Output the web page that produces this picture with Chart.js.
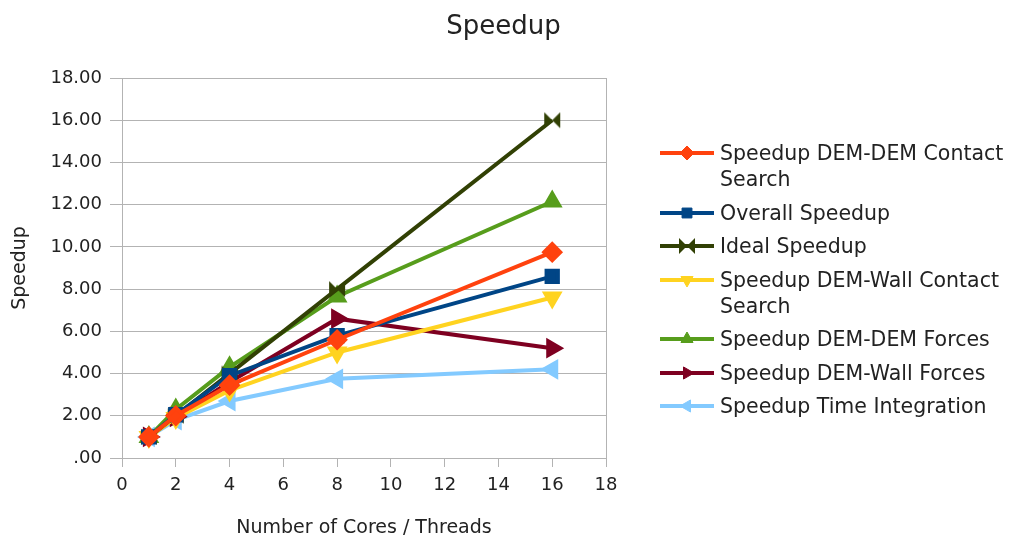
<!DOCTYPE html>
<html>
<head>
<meta charset="utf-8">
<script src="https://cdn.jsdelivr.net/npm/chart.js@4.4.1/dist/chart.umd.min.js"></script>
<style>
  html, body { margin: 0; padding: 0; background: #fff; }
  #wrap { position: relative; width: 1015px; height: 541px; font-family: "DejaVu Sans", sans-serif; color: #222; }
  #chart { position: absolute; left: 0; top: 0; }
  #title { position: absolute; left: 0; width: 1007px; top: 10px; text-align: center; font-size: 26px; line-height: 30px; }
  #legend { position: absolute; left: 660px; top: 140px; }
  .item { display: flex; align-items: flex-start; margin-bottom: 7.5px; }
  .item canvas { flex: none; margin-top: 1px; }
  .item span { font-size: 20.5px; line-height: 26px; width: 298px; margin-left: 6px; }
</style>
</head>
<body>
<div id="wrap">
  <canvas id="chart" width="1015" height="541"></canvas>
  <div id="title">Speedup</div>
  <div id="legend"></div>
</div>
<script>
const cores = [1, 2, 4, 8, 16];
const contactSearch = [1.0, 2.0, 3.45, 5.6, 9.75];
const overall = [1.0, 2.05, 3.9, 5.8, 8.6];
const ideal = [1, 2, 4, 8, 16];
const wallContactSearch = [1.0, 1.9, 3.2, 5.0, 7.6];
const demForces = [1.0, 2.3, 4.3, 7.65, 12.15];
const wallForces = [1.0, 1.95, 3.6, 6.6, 5.2];
const timeIntegration = [1.0, 1.8, 2.7, 3.75, 4.2];

const yTicks = [0, 2, 4, 6, 8, 10, 12, 14, 16, 18];
const xTicks = [0, 2, 4, 6, 8, 10, 12, 14, 16, 18];

// bowtie marker for the ideal line
function bowtie(color, r) {
  const c = document.createElement("canvas");
  c.width = c.height = r * 2 + 2;
  const g = c.getContext("2d");
  g.fillStyle = color;
  g.beginPath();
  g.moveTo(1, 1); g.lineTo(r + 1, r + 1); g.lineTo(1, 2 * r + 1); g.closePath();
  g.moveTo(2 * r + 1, 1); g.lineTo(r + 1, r + 1); g.lineTo(2 * r + 1, 2 * r + 1); g.closePath();
  g.fill();
  return c;
}

const series = [
  { label: "Speedup DEM-DEM Contact Search", values: contactSearch, color: "#ff420e", style: "rectRot", rot: 0 },
  { label: "Overall Speedup", values: overall, color: "#004586", style: "rect", rot: 0 },
  { label: "Ideal Speedup", values: ideal, color: "#314004", style: bowtie("#314004", 8), rot: 0 },
  { label: "Speedup DEM-Wall Contact Search", values: wallContactSearch, color: "#ffd320", style: "triangle", rot: 180 },
  { label: "Speedup DEM-DEM Forces", values: demForces, color: "#579d1c", style: "triangle", rot: 0 },
  { label: "Speedup DEM-Wall Forces", values: wallForces, color: "#7e0021", style: "triangle", rot: 90 },
  { label: "Speedup Time Integration", values: timeIntegration, color: "#83caff", style: "triangle", rot: 270 },
];

const tickFont = { family: "DejaVu Sans", size: 18 };
const axisFont = { family: "DejaVu Sans", size: 19 };

const chart = new Chart(document.getElementById("chart"), {
  type: "line",
  data: {
    datasets: series.map((s) => ({
      label: s.label,
      data: cores.map((c, i) => ({ x: c, y: s.values[i] })),
      borderColor: s.color,
      backgroundColor: s.color,
      borderWidth: 4,
      pointStyle: s.style,
      pointRotation: s.rot,
      pointRadius: 8,
      tension: 0,
    })),
  },
  options: {
    responsive: false,
    animation: false,
    layout: { padding: { left: 0, top: 78, right: 409, bottom: 0 } },
    plugins: { legend: { display: false }, tooltip: { enabled: false } },
    scales: {
      x: {
        type: "linear",
        min: 0,
        max: 18,
        afterBuildTicks: (s) => { s.ticks = xTicks.map((v) => ({ value: v })); },
        afterFit: (s) => { s.height = 83; },
        ticks: { font: tickFont, color: "#222", padding: 8, maxRotation: 0 },
        grid: {
          color: (ctx) => (ctx.tick && ctx.tick.value === 18 ? "#b3b3b3" : "rgba(0,0,0,0)"),
          tickColor: "#b3b3b3",
          tickLength: 9,
        },
        border: { color: "#b3b3b3" },
        title: { display: true, text: "Number of Cores / Threads", font: axisFont, color: "#222", padding: { top: 0, bottom: 2 } },
      },
      y: {
        min: 0,
        max: 18,
        afterBuildTicks: (s) => { s.ticks = yTicks.map((v) => ({ value: v })); },
        afterFit: (s) => { s.width = 122; },
        ticks: {
          font: tickFont,
          color: "#222",
          padding: 8,
          callback: (v) => v.toFixed(2).replace(/^0/, ""),
        },
        grid: { color: "#b3b3b3", tickColor: "#b3b3b3", tickLength: 12 },
        border: { color: "#b3b3b3" },
        title: { display: true, text: "Speedup", font: axisFont, color: "#222", padding: { top: 9, bottom: 0 } },
      },
    },
  },
});

// legend built from the datasets
const legend = document.getElementById("legend");
chart.data.datasets.forEach((ds) => {
  const item = document.createElement("div");
  item.className = "item";
  const c = document.createElement("canvas");
  c.width = 54; c.height = 24;
  const g = c.getContext("2d");
  g.strokeStyle = ds.borderColor;
  g.lineWidth = 4;
  g.beginPath(); g.moveTo(0, 12); g.lineTo(54, 12); g.stroke();
  g.fillStyle = ds.backgroundColor;
  g.strokeStyle = ds.borderColor;
  g.lineWidth = 1;
  Chart.helpers.drawPoint(g, { pointStyle: ds.pointStyle, rotation: ds.pointRotation, radius: 7, borderWidth: 1 }, 27, 12);
  const t = document.createElement("span");
  t.textContent = ds.label;
  item.appendChild(c);
  item.appendChild(t);
  legend.appendChild(item);
});
</script>
</body>
</html>
